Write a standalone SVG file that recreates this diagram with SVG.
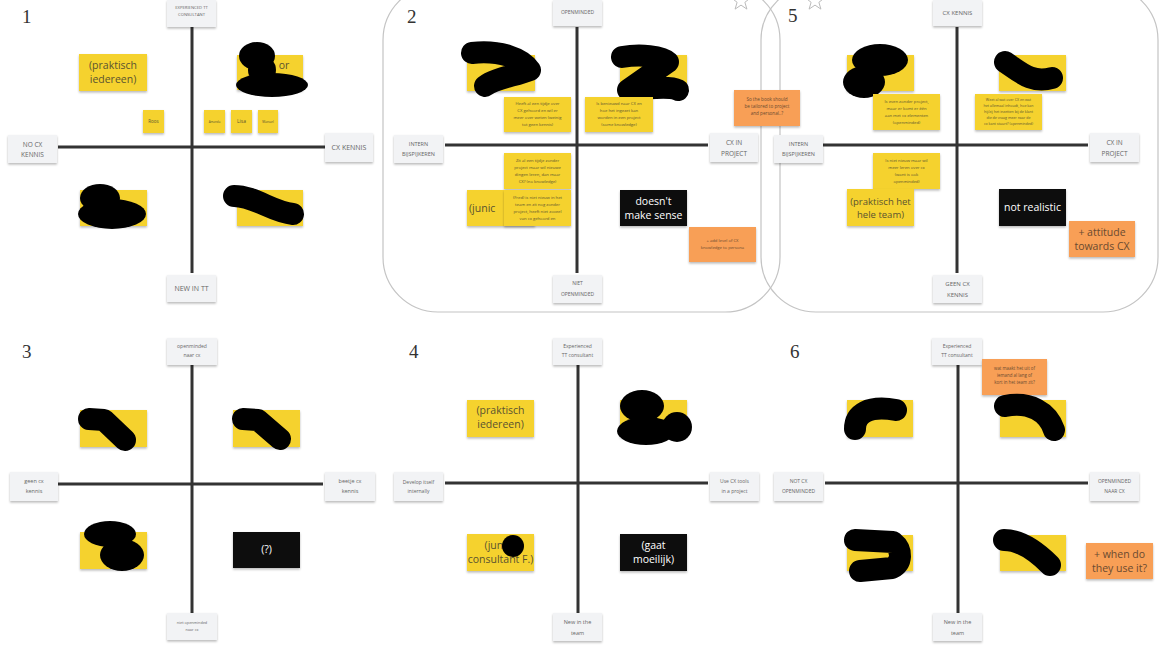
<svg xmlns="http://www.w3.org/2000/svg" width="1160" height="653" viewBox="0 0 1160 653">
<defs>
<filter id="sh" x="-20%" y="-20%" width="140%" height="150%"><feDropShadow dx="0" dy="1.5" stdDeviation="1" flood-color="#000" flood-opacity="0.28"/></filter>
<style>
.bg{fill:#ffffff}
.num{font-family:"Liberation Serif",serif;font-size:19px;fill:#333}
.lbl rect{fill:#f2f3f5;filter:url(#sh)}
.lbl text{font-family:"Open Sans","Liberation Sans",sans-serif;fill:#666;text-anchor:middle}
.y rect{fill:#f5d22f;filter:url(#sh)}
.o rect{fill:#f89f57;filter:url(#sh)}
.k rect{fill:#0c0c0c;filter:url(#sh)}
.y text,.o text{font-family:"Open Sans","Liberation Sans",sans-serif;fill:#5a5230;text-anchor:middle}
.o text{fill:#6a4a30}
.k text{font-family:"Open Sans","Liberation Sans",sans-serif;fill:#fff;text-anchor:middle;font-size:10.5px}
.big{font-size:10.5px}
.sm{font-size:4.2px}
.ax{stroke:#333;stroke-width:3;fill:none}
.frame{fill:none;stroke:#c4c4c4;stroke-width:1.2}
.blob{fill:#000}
.bs{stroke:#000;stroke-width:22;stroke-linecap:round;stroke-linejoin:round;fill:none}
.star{fill:#fff;stroke:#bbb;stroke-width:1}
</style>
</defs>
<rect class="bg" x="0" y="0" width="1160" height="653"/>

<!-- frames -->
<g id="frames">
<rect class="frame" x="383" y="-15" width="397" height="327" rx="55"/>
<rect class="frame" x="761" y="-15" width="397" height="327" rx="55"/>
<polygon class="star" points="741,-9 743.4,-2.3 750.5,-2.1 744.9,2.3 746.9,9.1 741,5.1 735.1,9.1 737.1,2.3 731.5,-2.1 738.6,-2.3"/>
<polygon class="star" points="815,-9 817.4,-2.3 824.5,-2.1 818.9,2.3 820.9,9.1 815,5.1 809.1,9.1 811.1,2.3 805.5,-2.1 812.6,-2.3"/>
</g>

<!-- connectors (axes) -->
<g id="axes">
<line class="ax" x1="192" y1="27" x2="192" y2="273"/><line class="ax" x1="58" y1="147" x2="325" y2="147"/>
<line class="ax" x1="577" y1="27" x2="577" y2="273"/><line class="ax" x1="445" y1="145" x2="708" y2="145"/>
<line class="ax" x1="957" y1="27" x2="957" y2="273"/><line class="ax" x1="823" y1="145" x2="1088" y2="145"/>
<line class="ax" x1="192" y1="365" x2="192" y2="613"/><line class="ax" x1="58" y1="484" x2="323" y2="484"/>
<line class="ax" x1="578" y1="365" x2="578" y2="613"/><line class="ax" x1="445" y1="483" x2="708" y2="483"/>
<line class="ax" x1="958" y1="365" x2="958" y2="613"/><line class="ax" x1="825" y1="483" x2="1088" y2="483"/>
</g>

<!-- Panel 1 -->
<g id="panel1">
<text class="num" x="22" y="23">1</text>
<g id="p1-top" class="lbl"><rect x="167" y="0" width="49" height="27"/><text font-size="4.2" x="191.5" y="9">EXPERIENCED TT</text><text font-size="4.2" x="191.5" y="16">CONSULTANT</text></g>
<g id="p1-left" class="lbl"><rect x="8" y="135" width="49" height="28"/><text font-size="6.5" x="32.5" y="147">NO CX</text><text font-size="6.5" x="32.5" y="157">KENNIS</text></g>
<g id="p1-right" class="lbl"><rect x="325" y="133" width="48" height="29"/><text font-size="7" x="349" y="150">CX KENNIS</text></g>
<g id="p1-bottom" class="lbl"><rect x="167" y="275" width="49" height="27"/><text font-size="7" x="191.5" y="291">NEW IN TT</text></g>
<g id="p1-praktisch" class="y"><rect x="79" y="54" width="68" height="37"/><text class="big" x="113" y="69">(praktisch</text><text class="big" x="113" y="83">iedereen)</text></g>
<g id="p1-tr" class="y"><rect x="237" y="55" width="66" height="35"/><text class="big" x="284" y="69">or</text>
<ellipse class="blob" cx="257" cy="56" rx="18" ry="14"/><ellipse class="blob" cx="262" cy="70" rx="14" ry="14"/><ellipse class="blob" cx="272" cy="85" rx="36" ry="12"/></g>
<g id="p1-roos" class="y"><rect x="143" y="110" width="21" height="23"/><text font-size="4.5" x="153.5" y="123">Roos</text></g>
<g id="p1-amanda" class="y"><rect x="204" y="110" width="21" height="23"/><text font-size="3" x="214.5" y="123">Amanda</text></g>
<g id="p1-lisa" class="y"><rect x="231" y="110" width="21" height="23"/><text font-size="5" x="241.5" y="123">Lisa</text></g>
<g id="p1-manuel" class="y"><rect x="258" y="110" width="20" height="23"/><text font-size="3.3" x="268" y="123">Manuel</text></g>
<g id="p1-bl" class="y"><rect x="80" y="190" width="67" height="36"/><ellipse class="blob" cx="100" cy="198" rx="20" ry="14"/><ellipse class="blob" cx="112" cy="214" rx="34" ry="15"/></g>
<g id="p1-br" class="y"><rect x="237" y="190" width="66" height="36"/><path class="bs" d="M234,196 C255,196 272,212 293,214"/></g>
</g>

<!-- Panel 2 -->
<g id="panel2">
<text class="num" x="407" y="23">2</text>
<g id="p2-top" class="lbl"><rect x="553" y="0" width="49" height="26"/><text font-size="5" x="577.5" y="14">OPENMINDED</text></g>
<g id="p2-left" class="lbl"><rect x="394" y="135" width="49" height="28"/><text font-size="5.5" x="418.5" y="146">INTERN</text><text font-size="5.5" x="418.5" y="156">BIJSPIJKEREN</text></g>
<g id="p2-right" class="lbl"><rect x="710" y="133" width="48" height="29"/><text font-size="6.5" x="734" y="145">CX IN</text><text font-size="6.5" x="734" y="156">PROJECT</text></g>
<g id="p2-bottom" class="lbl"><rect x="553" y="275" width="49" height="28"/><text font-size="5" x="577.5" y="285">NIET</text><text font-size="5" x="577.5" y="296">OPENMINDED</text></g>
<g id="p2-tl" class="y"><rect x="467" y="55" width="68" height="36"/><path class="bs" d="M472,53 C500,50 522,58 530,70 C515,76 495,78 485,86"/></g>
<g id="p2-tr" class="y"><rect x="620" y="55" width="67" height="35"/><path class="bs" d="M622,57 C640,54 662,56 668,62 L628,90 C650,88 670,86 678,90"/></g>
<g id="p2-n1" class="y"><rect x="504" y="97" width="67" height="35"/><text class="sm" x="537.5" y="105">Heeft al een tijdje over</text><text class="sm" x="537.5" y="112">CX gehoord en wil er</text><text class="sm" x="537.5" y="119">meer over weten (weinig</text><text class="sm" x="537.5" y="126">tot geen kennis)</text></g>
<g id="p2-n2" class="y"><rect x="585" y="97" width="68" height="35"/><text class="sm" x="619" y="105">Is benieuwd naar CX en</text><text class="sm" x="619" y="112">hoe het ingezet kan</text><text class="sm" x="619" y="119">worden in een project</text><text class="sm" x="619" y="126">(some knowledge)</text></g>
<g id="p2-n3" class="y"><rect x="504" y="153" width="67" height="36"/><text class="sm" x="537.5" y="162">Zit al een tijdje zonder</text><text class="sm" x="537.5" y="169">project maar wil nieuwe</text><text class="sm" x="537.5" y="176">dingen leren, dan maar</text><text class="sm" x="537.5" y="183">CX? (no knowledge)</text></g>
<g id="p2-junic" class="y"><rect x="467" y="190" width="68" height="36"/><text class="big" x="469" y="212" text-anchor="start" style="text-anchor:start">(junic</text></g>
<g id="p2-n4" class="y"><rect x="504" y="190" width="67" height="36"/><text class="sm" x="537.5" y="199">(Fred) is niet nieuw in het</text><text class="sm" x="537.5" y="206">team en zit nog zonder</text><text class="sm" x="537.5" y="213">project, heeft niet zoveel</text><text class="sm" x="537.5" y="220">van cx gehoord en</text></g>
<g id="p2-sense" class="k"><rect x="620" y="190" width="67" height="36"/><text x="653.5" y="205">doesn't</text><text x="653.5" y="219">make sense</text></g>
<g id="p2-add" class="o"><rect x="689" y="227" width="67" height="35"/><text class="sm" x="722.5" y="242">+ add level of CX</text><text class="sm" x="722.5" y="249">knowledge to persona</text></g>
<g id="p2-book" class="o"><rect x="734" y="90" width="66" height="36"/><text font-size="4.6" x="767" y="101">So the book should</text><text font-size="4.6" x="767" y="108">be tailored to project</text><text font-size="4.6" x="767" y="115">and personal..?</text></g>
</g>

<!-- Panel 5 -->
<g id="panel5">
<text class="num" x="788" y="22">5</text>
<g id="p5-top" class="lbl"><rect x="933" y="0" width="49" height="26"/><text font-size="6" x="957.5" y="15">CX KENNIS</text></g>
<g id="p5-left" class="lbl"><rect x="774" y="135" width="49" height="28"/><text font-size="5.5" x="798.5" y="146">INTERN</text><text font-size="5.5" x="798.5" y="156">BIJSPIJKEREN</text></g>
<g id="p5-right" class="lbl"><rect x="1090" y="133" width="49" height="29"/><text font-size="6.5" x="1114.5" y="145">CX IN</text><text font-size="6.5" x="1114.5" y="156">PROJECT</text></g>
<g id="p5-bottom" class="lbl"><rect x="933" y="275" width="49" height="28"/><text font-size="6" x="957.5" y="286">GEEN CX</text><text font-size="6" x="957.5" y="297">KENNIS</text></g>
<g id="p5-tl" class="y"><rect x="847" y="55" width="67" height="36"/><ellipse class="blob" cx="880" cy="60" rx="28" ry="16"/><ellipse class="blob" cx="864" cy="82" rx="21" ry="16"/></g>
<g id="p5-tr" class="y"><rect x="999" y="55" width="67" height="36"/><path class="bs" d="M1005,62 C1020,72 1032,84 1052,78"/></g>
<g id="p5-n1" class="y"><rect x="873" y="94" width="67" height="36"/><text class="sm" x="906.5" y="103">Is even zonder project,</text><text class="sm" x="906.5" y="110">maar er komt er één</text><text class="sm" x="906.5" y="117">aan met cx elementen</text><text class="sm" x="906.5" y="124">(openminded)</text></g>
<g id="p5-n2" class="y"><rect x="975" y="94" width="67" height="36"/><text font-size="3.6" x="1008.5" y="101">Weet al wat over CX en wat</text><text font-size="3.6" x="1008.5" y="107">het allemaal inhoudt, hoe kan</text><text font-size="3.6" x="1008.5" y="113">hij/zij het inzetten bij de klant</text><text font-size="3.6" x="1008.5" y="119">die de vraag meer naar de</text><text font-size="3.6" x="1008.5" y="125">cx kant stuurt? (openminded)</text></g>
<g id="p5-n3" class="y"><rect x="873" y="153" width="67" height="36"/><text class="sm" x="906.5" y="162">Is niet nieuw maar wil</text><text class="sm" x="906.5" y="169">meer leren over cx</text><text class="sm" x="906.5" y="176">(want is ook</text><text class="sm" x="906.5" y="183">openminded)</text></g>
<g id="p5-hele" class="y"><rect x="847" y="189" width="67" height="37"/><text font-size="9.5" x="880.5" y="205">(praktisch het</text><text font-size="9.5" x="880.5" y="218">hele team)</text></g>
<g id="p5-real" class="k"><rect x="999" y="189" width="67" height="37"/><text x="1032.5" y="211">not realistic</text></g>
<g id="p5-att" class="o"><rect x="1069" y="221" width="66" height="36"/><text class="big" x="1102" y="236">+ attitude</text><text class="big" x="1102" y="250">towards CX</text></g>
</g>

<!-- Panel 3 -->
<g id="panel3">
<text class="num" x="22" y="358">3</text>
<g id="p3-top" class="lbl"><rect x="167" y="338" width="50" height="27"/><text font-size="5" x="192" y="348">openminded</text><text font-size="5" x="192" y="357">naar cx</text></g>
<g id="p3-left" class="lbl"><rect x="10" y="472" width="48" height="29"/><text font-size="5.5" x="34" y="483">geen cx</text><text font-size="5.5" x="34" y="493">kennis</text></g>
<g id="p3-right" class="lbl"><rect x="325" y="472" width="50" height="29"/><text font-size="5.5" x="350" y="483">beetje cx</text><text font-size="5.5" x="350" y="493">kennis</text></g>
<g id="p3-bottom" class="lbl"><rect x="167" y="613" width="50" height="27"/><text font-size="3.8" x="192" y="624">niet openminded</text><text font-size="3.8" x="192" y="631">naar cx</text></g>
<g id="p3-tl" class="y"><rect x="80" y="410" width="67" height="37"/><path class="bs" d="M89,419 L104,420 L125,440"/></g>
<g id="p3-tr" class="y"><rect x="233" y="410" width="67" height="37"/><path class="bs" d="M243,419 L258,420 L280,439"/></g>
<g id="p3-bl" class="y"><rect x="80" y="532" width="67" height="37"/><ellipse class="blob" cx="110" cy="534" rx="26" ry="13"/><ellipse class="blob" cx="122" cy="555" rx="22" ry="16"/></g>
<g id="p3-q" class="k"><rect x="233" y="532" width="67" height="36"/><text font-size="8" x="266.5" y="553">(?)</text></g>
</g>

<!-- Panel 4 -->
<g id="panel4">
<text class="num" x="409" y="358">4</text>
<g id="p4-top" class="lbl"><rect x="553" y="338" width="49" height="27"/><text font-size="5" x="577.5" y="348">Experienced</text><text font-size="5" x="577.5" y="357">TT consultant</text></g>
<g id="p4-left" class="lbl"><rect x="394" y="472" width="49" height="29"/><text font-size="5" x="418.5" y="484">Develop itself</text><text font-size="5" x="418.5" y="493">internally</text></g>
<g id="p4-right" class="lbl"><rect x="710" y="472" width="49" height="29"/><text font-size="5" x="734.5" y="483">Use CX tools</text><text font-size="5" x="734.5" y="493">in a project</text></g>
<g id="p4-bottom" class="lbl"><rect x="553" y="613" width="49" height="28"/><text font-size="5.5" x="577.5" y="624">New in the</text><text font-size="5.5" x="577.5" y="635">team</text></g>
<g id="p4-praktisch" class="y"><rect x="467" y="400" width="67" height="37"/><text class="big" x="500.5" y="414">(praktisch</text><text class="big" x="500.5" y="428">iedereen)</text></g>
<g id="p4-tr" class="y"><rect x="620" y="400" width="67" height="37"/><ellipse class="blob" cx="642" cy="406" rx="22" ry="16"/><ellipse class="blob" cx="646" cy="431" rx="29" ry="14"/><circle class="blob" cx="677" cy="427" r="15"/></g>
<g id="p4-junior" class="y"><rect x="467" y="534" width="67" height="37"/><text class="big" x="500.5" y="549">(junior</text><text class="big" x="500.5" y="563">consultant F.)</text><circle class="blob" cx="513" cy="546" r="11"/></g>
<g id="p4-gaat" class="k"><rect x="620" y="534" width="67" height="37"/><text x="653.5" y="549">(gaat</text><text x="653.5" y="563">moeilijk)</text></g>
</g>

<!-- Panel 6 -->
<g id="panel6">
<text class="num" x="790" y="358">6</text>
<g id="p6-top" class="lbl"><rect x="932" y="338" width="50" height="27"/><text font-size="5" x="957" y="348">Experienced</text><text font-size="5" x="957" y="357">TT consultant</text></g>
<g id="p6-left" class="lbl"><rect x="774" y="472" width="49" height="29"/><text font-size="5" x="798.5" y="483">NOT CX</text><text font-size="5" x="798.5" y="493">OPENMINDED</text></g>
<g id="p6-right" class="lbl"><rect x="1090" y="472" width="49" height="29"/><text font-size="5" x="1114.5" y="483">OPENMINDED</text><text font-size="5" x="1114.5" y="493">NAAR CX</text></g>
<g id="p6-bottom" class="lbl"><rect x="933" y="613" width="49" height="28"/><text font-size="5.5" x="957.5" y="624">New in the</text><text font-size="5.5" x="957.5" y="635">team</text></g>
<g id="p6-q" class="o"><rect x="982" y="359" width="65" height="36"/><text font-size="4.4" x="1014.5" y="370">wat maakt het uit of</text><text font-size="4.4" x="1014.5" y="377">iemand al lang of</text><text font-size="4.4" x="1014.5" y="384">kort in het team zit?</text></g>
<g id="p6-tl" class="y"><rect x="847" y="400" width="66" height="37"/><path class="bs" d="M855,429 C855,414 868,405 896,410"/></g>
<g id="p6-tr" class="y"><rect x="1000" y="400" width="66" height="37"/><path class="bs" d="M1005,406 C1030,401 1048,412 1054,430"/></g>
<g id="p6-bl" class="y"><rect x="847" y="535" width="66" height="36"/><path class="bs" d="M855,540 L893,542 C903,550 902,563 892,568 L860,571"/></g>
<g id="p6-br" class="y"><rect x="1000" y="535" width="66" height="36"/><path class="bs" d="M1004,540 C1022,540 1040,555 1050,565"/></g>
<g id="p6-when" class="o"><rect x="1086" y="543" width="67" height="36"/><text class="big" x="1119.5" y="558">+ when do</text><text class="big" x="1119.5" y="572">they use it?</text></g>
</g>
</svg>
